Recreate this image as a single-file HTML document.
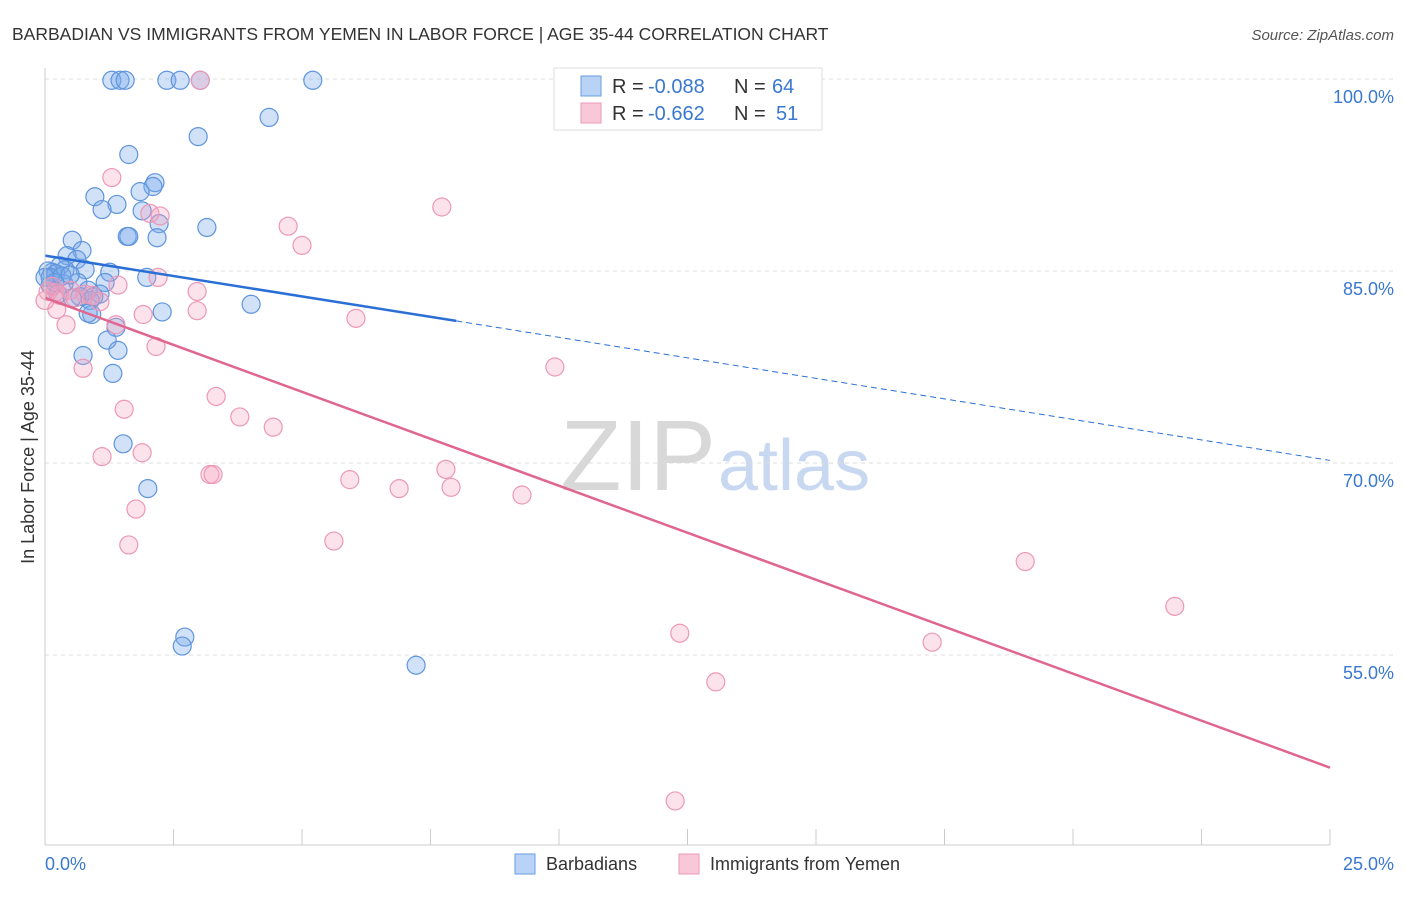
<!DOCTYPE html>
<html><head><meta charset="utf-8"><style>
body{margin:0;background:#fff;font-family:"Liberation Sans",sans-serif;}
svg text{font-family:"Liberation Sans",sans-serif;}
</style></head><body>
<svg id="c" width="1406" height="892">
<text x="12" y="40" font-size="17.5" fill="#333">BARBADIAN VS IMMIGRANTS FROM YEMEN IN LABOR FORCE | AGE 35-44 CORRELATION CHART</text>
<text x="1394" y="40" font-size="15" fill="#555" text-anchor="end" font-style="italic">Source: ZipAtlas.com</text>
<text x="716" y="490" font-size="100" fill="#d8d8d8" text-anchor="end" font-family="Liberation Serif">ZIP</text>
<text x="718" y="490" font-size="72" fill="#c8d8f0">atlas</text>
<text transform="translate(34,457) rotate(-90)" font-size="18" fill="#333" text-anchor="middle">In Labor Force | Age 35-44</text>
<g id="grid"></g><g id="pts"></g><g id="lines"></g>
<line x1="45" y1="68" x2="45" y2="845" stroke="#ccc"/>
<line x1="45" y1="845" x2="1330" y2="845" stroke="#ccc"/>
<text x="45" y="870" font-size="18" fill="#3a78d0">0.0%</text>
<text x="1394" y="870" font-size="18" fill="#3a78d0" text-anchor="end">25.0%</text>
<g>
<rect x="554" y="68" width="268" height="62" fill="#fff" stroke="#ddd"/>
<rect x="581" y="76" width="20" height="20" fill="#b8d3f5" stroke="#6a9ee0"/>
<rect x="581" y="103" width="20" height="20" fill="#f9c8d8" stroke="#ec9ab8"/>
<text x="612" y="93" font-size="20" fill="#333">R =</text>
<text x="648" y="93" font-size="20" fill="#3a78d0">-0.088</text>
<text x="734" y="93" font-size="20" fill="#333">N =</text>
<text x="772" y="93" font-size="20" fill="#3a78d0">64</text>
<text x="612" y="120" font-size="20" fill="#333">R =</text>
<text x="648" y="120" font-size="20" fill="#3a78d0">-0.662</text>
<text x="734" y="120" font-size="20" fill="#333">N =</text>
<text x="776" y="120" font-size="20" fill="#3a78d0">51</text>
</g>
<g>
<rect x="515" y="854" width="20" height="20" fill="#b8d3f5" stroke="#6a9ee0"/>
<text x="546" y="870" font-size="18" fill="#333">Barbadians</text>
<rect x="679" y="854" width="20" height="20" fill="#f9c8d8" stroke="#ec9ab8"/>
<text x="710" y="870" font-size="18" fill="#333">Immigrants from Yemen</text>
</g>
</svg>
<script>
const yTicks=[100,85,70,55];
const xTicks=[0,2.5,5,7.5,10,12.5,15,17.5,20,22.5,25];
const blueX=[1.30,1.46,1.56,2.37,2.63,5.21,3.02,4.36,2.98,1.63,2.14,2.10,1.85,0.97,1.40,1.11,1.89,2.22,3.15,1.60,1.63,2.18,0.53,0.72,0.43,0.62,0.29,0.14,0.06,0.39,0.21,1.26,0.78,1.98,1.17,0.64,0.37,0.10,0.84,1.07,0.68,0.53,0.25,0.88,4.01,2.28,0.91,0.84,1.38,1.21,1.42,0.74,1.32,1.52,2.00,2.72,2.67,7.22,0.10,0.19,0,0.33,0.95,0.49];
const blueY=[99.9,99.9,99.9,99.9,99.9,99.9,99.9,97.0,95.5,94.1,91.9,91.6,91.2,90.8,90.2,89.8,89.7,88.7,88.4,87.7,87.7,87.6,87.4,86.6,86.2,85.9,85.4,84.9,85.0,85.1,84.8,84.9,85.1,84.5,84.1,84.1,84.0,83.9,83.5,83.2,83.0,82.9,83.2,82.7,82.4,81.8,81.6,81.7,80.6,79.6,78.8,78.4,77.0,71.5,68.0,56.4,55.7,54.2,84.5,84.1,84.5,84.6,83.0,84.7];
const pinkX=[3.02,1.30,7.72,2.04,2.24,4.73,5.00,2.20,1.42,0.06,0.91,2.96,0.19,0.29,0.78,1.07,0.23,1.91,2.96,6.05,1.38,0.41,2.16,0.74,9.92,1.54,3.33,3.79,4.44,1.11,1.89,3.21,3.27,5.93,6.89,7.80,7.90,9.28,1.77,5.62,1.63,19.07,21.98,12.35,17.26,13.05,12.26,0.49,0.58,0.14,0];
const pinkY=[99.9,92.3,90.0,89.5,89.3,88.5,87.0,84.5,83.9,83.4,83.1,83.4,83.3,83.1,83.2,82.6,82.0,81.6,81.9,81.3,80.8,80.8,79.1,77.4,77.5,74.2,75.2,73.6,72.8,70.5,70.8,69.1,69.1,68.7,68.0,69.5,68.1,67.5,66.4,63.9,63.6,62.3,58.8,56.7,56.0,52.9,43.6,83.5,82.9,83.8,82.7];
const blueTrend=[86.2,81.1,70.2];
const pinkTrend=[82.9,46.2];
const NS='http://www.w3.org/2000/svg';
const xs=v=>45+v*51.4, ys=v=>79+(100-v)*12.8;
function mk(t,a,p){const e=document.createElementNS(NS,t);for(const k in a)e.setAttribute(k,a[k]);p.appendChild(e);return e;}
const grid=document.getElementById('grid');
yTicks.forEach(t=>{
 const l=mk('line',{x1:45,x2:1394,y1:ys(t),y2:ys(t),stroke:'#ddd','stroke-dasharray':'4,4'},grid);
 
 
 const tx=mk('text',{x:1394,y:ys(t)+24,'font-size':18,fill:'#3a78d0','text-anchor':'end'},grid);
 tx.textContent=t.toFixed(1)+'%';
 
 
});
const topLine=mk('line',{x1:45,x2:1394,y1:79,y2:79,stroke:'#ddd','stroke-dasharray':'4,4'},grid);


xTicks.forEach(t=>{
 const l=mk('line',{x1:xs(t),x2:xs(t),y1:829,y2:845,stroke:'#ccc'},grid);
 
 
});
const pts=document.getElementById('pts');
blueX.forEach((x,i)=>{
 const c=mk('circle',{cx:xs(x),cy:ys(blueY[i]),r:9,fill:'rgba(120,170,235,0.35)',stroke:'#5f95dc','stroke-width':1.2},pts);
 
 
});
pinkX.forEach((x,i)=>{
 const c=mk('circle',{cx:xs(x),cy:ys(pinkY[i]),r:9,fill:'rgba(245,160,190,0.3)',stroke:'#ec98b6','stroke-width':1.2},pts);
 
 
});
const lines=document.getElementById('lines');
const b1=mk('line',{x1:xs(0),y1:ys(blueTrend[0]),x2:xs(8),y2:ys(blueTrend[1]),stroke:'#2a6fd6','stroke-width':2.5},lines);


const b2=mk('line',{x1:xs(8),y1:ys(blueTrend[1]),x2:xs(25),y2:ys(blueTrend[2]),stroke:'#2a6fd6','stroke-width':1,'stroke-dasharray':'6,4'},lines);


const p1=mk('line',{x1:xs(0),y1:ys(pinkTrend[0]),x2:xs(25),y2:ys(pinkTrend[1]),stroke:'#e0668f','stroke-width':2.5},lines);


</script>
</body></html>
